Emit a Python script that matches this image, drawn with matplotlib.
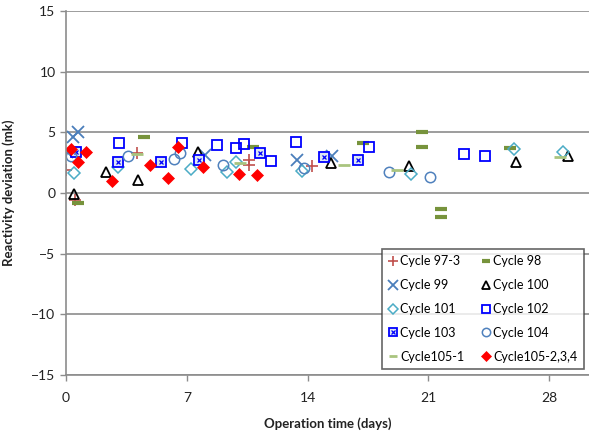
import matplotlib
matplotlib.use("Agg")
import matplotlib.pyplot as plt
from matplotlib.legend_handler import HandlerTuple

plt.rcParams['font.family'] = ['Lato', 'DejaVu Sans']

# Cycle 97-3
c97_x = [0.0, 0.52, 4.1, 10.6, 10.6, 14.24]
c97_y = [1.9, -0.58, 3.27, 2.72, 2.3, 2.25]
# Cycle 98
c98_x = [0.71, 4.54, 10.86, 17.2, 20.6, 20.6, 21.7, 21.7, 25.7]
c98_y = [-0.85, 4.59, 3.77, 4.12, 5.0, 3.77, -1.3, -2.0, 3.68]
# Cycle 99
c99_x = [0.04, 0.42, 0.71, 8.06, 13.4, 15.4]
c99_y = [3.4, 4.64, 5.0, 3.13, 2.74, 3.0]
# Cycle 100
c100_x = [0.48, 2.3, 4.19, 7.67, 15.36, 19.85, 26.07, 29.1]
c100_y = [-0.08, 1.76, 1.07, 3.4, 2.5, 2.23, 2.58, 3.0]
# Cycle 101
c101_x = [0.48, 3.03, 7.23, 9.35, 9.86, 13.7, 19.98, 25.93, 28.8]
c101_y = [1.67, 2.17, 1.95, 1.76, 2.58, 1.84, 1.54, 3.6, 3.4]
# Cycle 102
c102_x = [3.09, 6.7, 8.77, 9.84, 10.34, 11.87, 13.33, 17.58, 23.03, 24.29]
c102_y = [4.1, 4.15, 3.96, 3.74, 4.04, 2.66, 4.23, 3.77, 3.19, 3.08]
# Cycle 103
c103_x = [0.56, 3.03, 5.51, 7.73, 11.25, 14.96, 16.9]
c103_y = [3.4, 2.58, 2.58, 2.72, 3.27, 2.94, 2.72]
# Cycle 104
c104_x = [0.3, 3.61, 6.26, 6.61, 9.12, 13.8, 18.7, 21.1]
c104_y = [3.0, 3.0, 2.78, 3.27, 2.3, 2.09, 1.76, 1.35]
# Cycle105-1
c1051_x = [0.0, 4.1, 10.1, 16.1, 19.2, 28.6]
c1051_y = [3.5, 3.2, 2.45, 2.3, 1.9, 2.94]
# Cycle105-2,3,4
c1052_x = [0.29, 0.68, 1.14, 2.68, 4.87, 5.93, 6.51, 7.96, 10.05, 11.05]
c1052_y = [3.6, 2.53, 3.4, 0.99, 2.3, 1.21, 3.77, 2.12, 1.57, 1.48]

x_ticks = [0, 7, 14, 21, 28]
y_ticks = [-15, -10, -5, 0, 5, 10, 15]

fig = plt.figure(figsize=(5.89, 4.33), dpi=100)
ax = fig.add_axes([0.112, 0.134, 0.888, 0.841])

h97, = ax.plot(c97_x, c97_y, ls='none', marker='+', ms=9, mew=1.2, color='#C0504D', label='Cycle 97-3')
h98, = ax.plot(c98_x, c98_y, ls='none', marker='_', ms=8, mew=3, color='#77933C', label='Cycle 98')
h99, = ax.plot(c99_x, c99_y, ls='none', marker='x', ms=9, mew=1.3, color='#4A7EBB', label='Cycle 99')
h100, = ax.plot(c100_x, c100_y, ls='none', marker='^', ms=7.5, mew=1.3, mfc='none', color='black', label='Cycle 100')
h101, = ax.plot(c101_x, c101_y, ls='none', marker='D', ms=6.5, mew=1.1, mfc='none', color='#4BACC6', label='Cycle 101')
h102, = ax.plot(c102_x, c102_y, ls='none', marker='s', ms=7.5, mew=1.3, mfc='none', color='#0000FF', label='Cycle 102')
h103a, = ax.plot(c103_x, c103_y, ls='none', marker='s', ms=7.5, mew=1.3, mfc='#DCE6F2', mec='#0000FF')
h103b, = ax.plot(c103_x, c103_y, ls='none', marker='x', ms=3.5, mew=0.9, color='#0000FF')
h104, = ax.plot(c104_x, c104_y, ls='none', marker='o', ms=7.5, mew=1.1, mfc='none', color='#4F81BD', label='Cycle 104')
h1051, = ax.plot(c1051_x, c1051_y, ls='none', marker='_', ms=8, mew=2, color='#A9C47F', label='Cycle105-1')
h1052, = ax.plot(c1052_x, c1052_y, ls='none', marker='D', ms=6, mew=0.5, color='#FF0000', label='Cycle105-2,3,4')

ax.set_xlim(0, 30.3)
ax.set_ylim(-15, 15)
ax.set_xticks(x_ticks)
ax.set_yticks(y_ticks)
ax.yaxis.grid(True, color='#8C8C8C', lw=1.2)
ax.set_axisbelow(True)
for s in ['top', 'right']:
    ax.spines[s].set_visible(False)
for s in ['left', 'bottom']:
    ax.spines[s].set_color('#8C8C8C')
    ax.spines[s].set_linewidth(1.2)
ax.tick_params(axis='both', colors='#8C8C8C', length=4, width=1, labelsize=10, labelcolor='#222222')
ax.tick_params(axis='x', pad=8)

ax.set_xlabel('Operation time (days)', fontsize=9.5, fontweight='bold', labelpad=10, color='#222222')
ax.set_ylabel('Reactivity deviation (mk)', fontsize=9.5, fontweight='bold', labelpad=12, color='#222222')

handles = [h97, h98, h99, h100, h101, h102, (h103a, h103b), h104, h1051, h1052]
labels = ['Cycle 97-3', 'Cycle 98', 'Cycle 99', 'Cycle 100', 'Cycle 101', 'Cycle 102',
          'Cycle 103', 'Cycle 104', 'Cycle105-1', 'Cycle105-2,3,4']
# row-major order -> matplotlib fills columns first
order = [0, 2, 4, 6, 8, 1, 3, 5, 7, 9]
leg = fig.legend([handles[i] for i in order], [labels[i] for i in order],
                 handler_map={tuple: HandlerTuple(ndivide=1)},
                 loc='upper right', bbox_to_anchor=(0.991, 0.425),
                 bbox_transform=fig.transFigure, ncol=2,
                 fontsize=9, frameon=True, fancybox=False, edgecolor='#404040',
                 labelspacing=0.95, handlelength=0.85, handletextpad=0.15,
                 borderaxespad=0, borderpad=0.5, columnspacing=1.3, markerscale=0.8)
leg.get_frame().set_linewidth(1.2)

fig.savefig('out.png', dpi=100)
